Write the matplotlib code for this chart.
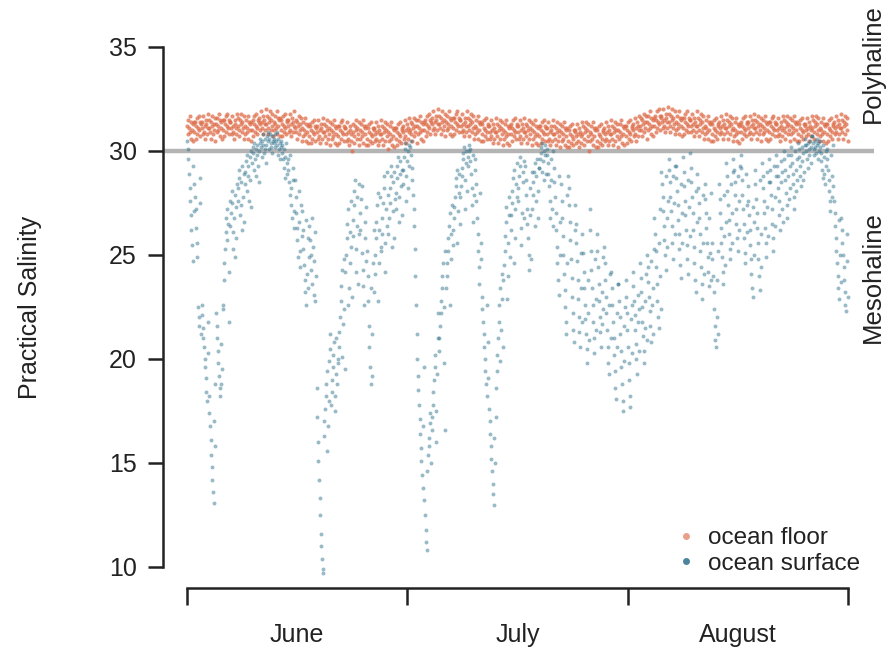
import numpy as np
import matplotlib
matplotlib.use("Agg")
import matplotlib.pyplot as plt
import matplotlib.transforms as mtransforms
from matplotlib.lines import Line2D

plt.rcParams["font.family"] = ["Liberation Sans", "DejaVu Sans"]

# Salinity readings, one row per day from 1 June, every 2 h through the day

FLOOR_SALINITY = [
    [31.2, 30.8, 31.5, 31.1, 30.9, 31.7, 30.6, 31.4, 31.0, 31.3, 30.5, 31.4],
    [30.9, 31.4, 30.6, 31.2, 31.6, 30.8, 31.1, 31.7, 31.0, 30.7, 31.4, 31.3],
    [31.4, 31.1, 30.8, 31.7, 30.9, 31.2, 30.6, 31.5, 31.3, 30.8, 31.1, 31.8],
    [31.1, 31.5, 30.9, 30.6, 31.4, 31.2, 31.7, 30.8, 31.3, 31.0, 31.6, 30.5],
    [31.3, 30.9, 31.6, 31.2, 31.0, 31.8, 30.7, 31.5, 31.1, 31.4, 30.6, 31.5],
    [31.0, 31.5, 30.7, 31.3, 31.7, 30.9, 31.2, 31.8, 31.1, 30.8, 31.5, 31.4],
    [31.4, 31.1, 30.8, 31.7, 30.9, 31.2, 30.6, 31.5, 31.3, 30.8, 31.1, 31.8],
    [31.2, 31.6, 31.0, 30.7, 31.5, 31.3, 31.8, 30.9, 31.4, 31.1, 31.7, 30.6],
    [31.2, 30.8, 31.5, 31.1, 30.9, 31.7, 30.6, 31.4, 31.0, 31.3, 30.5, 31.4],
    [31.0, 31.5, 30.7, 31.3, 31.7, 30.9, 31.2, 31.8, 31.1, 30.8, 31.5, 31.4],
    [31.6, 31.3, 31.0, 31.9, 31.1, 31.4, 30.8, 31.7, 31.5, 31.0, 31.3, 32.0],
    [31.3, 31.7, 31.1, 30.8, 31.6, 31.4, 31.9, 31.0, 31.5, 31.2, 31.8, 30.7],
    [31.4, 31.0, 31.7, 31.3, 31.1, 31.9, 30.8, 31.6, 31.2, 31.5, 30.7, 31.6],
    [31.0, 31.5, 30.7, 31.3, 31.7, 30.9, 31.2, 31.8, 31.1, 30.8, 31.5, 31.4],
    [31.5, 31.2, 30.9, 31.8, 31.0, 31.3, 30.7, 31.6, 31.4, 30.9, 31.2, 31.9],
    [31.1, 31.5, 30.9, 30.6, 31.4, 31.2, 31.7, 30.8, 31.3, 31.0, 31.6, 30.5],
    [31.1, 30.7, 31.4, 31.0, 30.8, 31.6, 30.5, 31.3, 30.9, 31.2, 30.4, 31.3],
    [30.7, 31.2, 30.4, 31.0, 31.4, 30.6, 30.9, 31.5, 30.8, 30.5, 31.2, 31.1],
    [31.2, 30.9, 30.6, 31.5, 30.7, 31.0, 30.4, 31.3, 31.1, 30.6, 30.9, 31.6],
    [30.9, 31.3, 30.7, 30.4, 31.2, 31.0, 31.5, 30.6, 31.1, 30.8, 31.4, 30.3],
    [31.0, 30.6, 31.3, 30.9, 30.7, 31.5, 30.4, 31.2, 30.8, 31.1, 30.3, 31.2],
    [30.7, 31.2, 30.4, 31.0, 31.4, 30.6, 30.9, 31.5, 30.8, 30.5, 31.2, 31.1],
    [31.1, 30.8, 30.5, 31.4, 30.6, 30.9, 30.3, 31.2, 31.0, 30.5, 30.8, 30.0],
    [30.9, 31.3, 30.7, 30.4, 31.2, 31.0, 31.5, 30.6, 31.1, 30.8, 31.4, 30.3],
    [31.0, 30.6, 31.3, 30.9, 30.7, 31.5, 30.4, 31.2, 30.8, 31.1, 30.3, 31.2],
    [30.6, 31.1, 30.3, 30.9, 31.3, 30.5, 30.8, 31.4, 30.7, 30.4, 31.1, 31.0],
    [31.1, 30.8, 30.5, 31.4, 30.6, 30.9, 30.3, 31.2, 31.0, 30.5, 30.8, 31.5],
    [30.8, 31.2, 30.6, 30.3, 31.1, 30.9, 31.4, 30.5, 31.0, 30.7, 31.3, 30.1],
    [30.9, 30.5, 31.2, 30.8, 30.6, 31.4, 30.3, 31.1, 30.7, 31.0, 30.2, 31.1],
    [30.6, 31.1, 30.3, 30.9, 31.3, 30.5, 30.8, 31.4, 30.7, 30.4, 31.1, 31.0],
    [31.2, 30.9, 30.6, 31.5, 30.7, 31.0, 30.4, 31.3, 31.1, 30.6, 30.9, 31.6],
    [31.0, 31.4, 30.8, 30.5, 31.3, 31.1, 31.6, 30.7, 31.2, 30.9, 31.5, 30.4],
    [31.2, 30.8, 31.5, 31.1, 30.9, 31.7, 30.6, 31.4, 31.0, 31.3, 30.5, 31.4],
    [31.0, 31.5, 30.7, 31.3, 31.7, 30.9, 31.2, 31.8, 31.1, 30.8, 31.5, 31.4],
    [31.6, 31.3, 31.0, 31.9, 31.1, 31.4, 30.8, 31.7, 31.5, 31.0, 31.3, 32.0],
    [31.3, 31.7, 31.1, 30.8, 31.6, 31.4, 31.9, 31.0, 31.5, 31.2, 31.8, 30.7],
    [31.4, 31.0, 31.7, 31.3, 31.1, 31.9, 30.8, 31.6, 31.2, 31.5, 30.7, 31.6],
    [31.1, 31.6, 30.8, 31.4, 31.8, 31.0, 31.3, 31.9, 31.2, 30.9, 31.6, 31.5],
    [31.5, 31.2, 30.9, 31.8, 31.0, 31.3, 30.7, 31.6, 31.4, 30.9, 31.2, 31.9],
    [31.2, 31.6, 31.0, 30.7, 31.5, 31.3, 31.8, 30.9, 31.4, 31.1, 31.7, 30.6],
    [31.2, 30.8, 31.5, 31.1, 30.9, 31.7, 30.6, 31.4, 31.0, 31.3, 30.5, 31.4],
    [30.8, 31.3, 30.5, 31.1, 31.5, 30.7, 31.0, 31.6, 30.9, 30.6, 31.3, 31.2],
    [31.2, 30.9, 30.6, 31.5, 30.7, 31.0, 30.4, 31.3, 31.1, 30.6, 30.9, 31.6],
    [30.9, 31.3, 30.7, 30.4, 31.2, 31.0, 31.5, 30.6, 31.1, 30.8, 31.4, 30.3],
    [31.0, 30.6, 31.3, 30.9, 30.7, 31.5, 30.4, 31.2, 30.8, 31.1, 30.3, 31.2],
    [30.8, 31.3, 30.5, 31.1, 31.5, 30.7, 31.0, 31.6, 30.9, 30.6, 31.3, 31.2],
    [31.2, 30.9, 30.6, 31.5, 30.7, 31.0, 30.4, 31.3, 31.1, 30.6, 30.9, 31.6],
    [30.9, 31.3, 30.7, 30.4, 31.2, 31.0, 31.5, 30.6, 31.1, 30.8, 31.4, 30.3],
    [31.0, 30.6, 31.3, 30.9, 30.7, 31.5, 30.4, 31.2, 30.8, 31.1, 30.3, 31.2],
    [30.7, 31.2, 30.4, 31.0, 31.4, 30.6, 30.9, 31.5, 30.8, 30.5, 31.2, 31.1],
    [31.1, 30.8, 30.5, 31.4, 30.6, 30.9, 30.3, 31.2, 31.0, 30.5, 30.8, 31.5],
    [30.8, 31.2, 30.6, 30.3, 31.1, 30.9, 31.4, 30.5, 31.0, 30.7, 31.3, 30.2],
    [30.9, 30.5, 31.2, 30.8, 30.6, 31.4, 30.3, 31.1, 30.7, 31.0, 30.2, 31.1],
    [30.5, 31.0, 30.2, 30.8, 31.2, 30.4, 30.7, 31.3, 30.6, 30.3, 31.0, 30.9],
    [31.0, 30.7, 30.4, 31.3, 30.5, 30.8, 30.2, 31.1, 30.9, 30.4, 30.7, 31.4],
    [30.8, 31.2, 30.6, 30.3, 31.1, 30.9, 31.4, 30.5, 31.0, 30.7, 31.3, 30.0],
    [30.9, 30.5, 31.2, 30.8, 30.6, 31.4, 30.3, 31.1, 30.7, 31.0, 30.2, 31.1],
    [30.5, 31.0, 30.2, 30.8, 31.2, 30.4, 30.7, 31.3, 30.6, 30.3, 31.0, 30.9],
    [31.1, 30.8, 30.5, 31.4, 30.6, 30.9, 30.3, 31.2, 31.0, 30.5, 30.8, 31.5],
    [30.8, 31.2, 30.6, 30.3, 31.1, 30.9, 31.4, 30.5, 31.0, 30.7, 31.3, 30.2],
    [31.0, 30.6, 31.3, 30.9, 30.7, 31.5, 30.4, 31.2, 30.8, 31.1, 30.3, 31.2],
    [30.7, 31.2, 30.4, 31.0, 31.4, 30.6, 30.9, 31.5, 30.8, 30.5, 31.2, 31.1],
    [31.3, 31.0, 30.7, 31.6, 30.8, 31.1, 30.5, 31.4, 31.2, 30.7, 31.0, 31.7],
    [31.2, 31.6, 31.0, 30.7, 31.5, 31.3, 31.8, 30.9, 31.4, 31.1, 31.7, 30.6],
    [31.4, 31.0, 31.7, 31.3, 31.1, 31.9, 30.8, 31.6, 31.2, 31.5, 30.7, 31.6],
    [31.2, 31.7, 30.9, 31.5, 31.9, 31.1, 31.4, 32.0, 31.3, 31.0, 31.7, 31.6],
    [31.7, 31.4, 31.1, 32.0, 31.2, 31.5, 30.9, 31.8, 31.6, 31.1, 31.4, 32.1],
    [31.4, 31.8, 31.2, 30.9, 31.7, 31.5, 32.0, 31.1, 31.6, 31.3, 31.9, 30.8],
    [31.4, 31.0, 31.7, 31.3, 31.1, 31.9, 30.8, 31.6, 31.2, 31.5, 30.7, 31.6],
    [31.1, 31.6, 30.8, 31.4, 31.8, 31.0, 31.3, 31.9, 31.2, 30.9, 31.6, 31.5],
    [31.5, 31.2, 30.9, 31.8, 31.0, 31.3, 30.7, 31.6, 31.4, 30.9, 31.2, 31.9],
    [31.2, 31.6, 31.0, 30.7, 31.5, 31.3, 31.8, 30.9, 31.4, 31.1, 31.7, 30.6],
    [31.2, 30.8, 31.5, 31.1, 30.9, 31.7, 30.6, 31.4, 31.0, 31.3, 30.5, 31.4],
    [30.8, 31.3, 30.5, 31.1, 31.5, 30.7, 31.0, 31.6, 30.9, 30.6, 31.3, 31.2],
    [31.4, 31.1, 30.8, 31.7, 30.9, 31.2, 30.6, 31.5, 31.3, 30.8, 31.1, 31.8],
    [31.1, 31.5, 30.9, 30.6, 31.4, 31.2, 31.7, 30.8, 31.3, 31.0, 31.6, 30.5],
    [31.1, 30.7, 31.4, 31.0, 30.8, 31.6, 30.5, 31.3, 30.9, 31.2, 30.4, 31.3],
    [30.9, 31.4, 30.6, 31.2, 31.6, 30.8, 31.1, 31.7, 31.0, 30.7, 31.4, 31.3],
    [31.4, 31.1, 30.8, 31.7, 30.9, 31.2, 30.6, 31.5, 31.3, 30.8, 31.1, 31.8],
    [31.1, 31.5, 30.9, 30.6, 31.4, 31.2, 31.7, 30.8, 31.3, 31.0, 31.6, 30.5],
    [31.2, 30.8, 31.5, 31.1, 30.9, 31.7, 30.6, 31.4, 31.0, 31.3, 30.5, 31.4],
    [30.9, 31.4, 30.6, 31.2, 31.6, 30.8, 31.1, 31.7, 31.0, 30.7, 31.4, 31.3],
    [31.3, 31.0, 30.7, 31.6, 30.8, 31.1, 30.5, 31.4, 31.2, 30.7, 31.0, 31.7],
    [31.1, 31.5, 30.9, 30.6, 31.4, 31.2, 31.7, 30.8, 31.3, 31.0, 31.6, 30.5],
    [31.2, 30.8, 31.5, 31.1, 30.9, 31.7, 30.6, 31.4, 31.0, 31.3, 30.5, 31.4],
    [30.8, 31.3, 30.5, 31.1, 31.5, 30.7, 31.0, 31.6, 30.9, 30.6, 31.3, 31.2],
    [31.3, 31.0, 30.7, 31.6, 30.8, 31.1, 30.5, 31.4, 31.2, 30.7, 31.0, 31.7],
    [31.1, 31.5, 30.9, 30.6, 31.4, 31.2, 31.7, 30.8, 31.3, 31.0, 31.6, 30.5],
    [31.1, 30.7, 31.4, 31.0, 30.8, 31.6, 30.5, 31.3, 30.9, 31.2, 30.4, 31.3],
    [30.8, 31.3, 30.5, 31.1, 31.5, 30.7, 31.0, 31.6, 30.9, 30.6, 31.3, 31.2],
    [31.4, 31.1, 30.8, 31.7, 30.9, 31.2, 30.6, 31.5, 31.3, 30.8, 31.1, 31.8],
    [31.1, 31.5, 30.9, 30.6, 31.4, 31.2, 31.7, 30.8, 31.3, 31.0, 31.6, 30.5],
]

SURFACE_SALINITY = [
    [30.5, 30.1, 29.6, 28.9, 28.2, 27.6, 26.9, 26.2, 25.5, 24.7, 29.3, 27.1],
    [28.4, 27.8, 27.2, 26.3, 25.6, 24.9, 22.5, 22.0, 21.6, 28.7, 27.5, 21.2],
    [22.6, 22.1, 21.5, 21.0, 20.6, 20.0, 19.6, 19.1, 18.4, 18.0, 21.8, 20.3],
    [18.2, 17.4, 16.8, 16.1, 15.4, 14.8, 14.2, 13.6, 13.1, 17.0, 15.8, 18.8],
    [22.2, 21.6, 21.0, 20.4, 19.8, 19.2, 18.6, 18.2, 18.8, 20.7, 19.5, 22.6],
    [22.4, 23.8, 24.6, 25.3, 26.1, 26.8, 27.2, 25.7, 26.5, 21.8, 24.2, 27.6],
    [26.4, 27.0, 27.5, 28.1, 25.3, 26.1, 26.8, 27.9, 24.9, 25.8, 27.3, 28.4],
    [27.6, 28.2, 28.7, 29.1, 26.9, 27.4, 28.5, 29.3, 26.2, 27.8, 28.9, 26.6],
    [28.4, 29.0, 29.5, 29.8, 28.1, 28.8, 29.3, 27.6, 28.6, 29.7, 27.3, 30.0],
    [29.4, 29.9, 30.2, 30.4, 29.1, 29.6, 30.1, 28.8, 29.8, 30.3, 29.3, 28.5],
    [30.0, 30.4, 30.6, 30.2, 29.7, 30.5, 30.8, 30.3, 29.9, 30.6, 30.1, 29.4],
    [30.3, 30.7, 30.9, 30.5, 30.1, 30.6, 30.8, 30.2, 30.4, 30.7, 29.9, 30.5],
    [30.6, 30.4, 30.8, 30.2, 30.5, 30.9, 30.3, 29.8, 30.6, 30.1, 30.4, 29.6],
    [30.2, 30.5, 29.9, 30.3, 29.6, 30.1, 29.2, 28.7, 29.7, 30.4, 28.9, 29.4],
    [29.6, 29.1, 28.5, 27.9, 29.8, 28.2, 27.4, 26.8, 29.2, 28.6, 27.1, 26.3],
    [28.6, 27.8, 27.0, 26.3, 25.7, 24.9, 28.1, 26.6, 25.2, 24.4, 27.4, 25.9],
    [27.1, 26.2, 25.3, 24.5, 23.8, 23.2, 22.6, 26.7, 24.1, 25.8, 23.4, 24.9],
    [26.4, 25.7, 25.0, 24.3, 23.6, 26.8, 25.4, 24.7, 23.1, 22.8, 26.1, 24.0],
    [18.6, 17.2, 16.0, 15.1, 14.2, 13.3, 12.5, 11.6, 11.0, 10.4, 9.9, 9.7],
    [16.3, 17.0, 17.6, 18.2, 18.8, 19.4, 15.6, 16.8, 18.0, 19.9, 20.5, 21.2],
    [17.8, 18.4, 19.0, 19.6, 20.2, 20.8, 18.2, 17.5, 19.3, 21.0, 18.8, 20.0],
    [19.8, 20.6, 21.3, 22.0, 22.8, 23.5, 24.3, 20.1, 21.7, 22.4, 24.8, 19.5],
    [24.2, 25.0, 25.8, 26.5, 27.2, 22.6, 23.4, 24.6, 26.1, 27.6, 25.4, 23.0],
    [25.9, 26.7, 27.4, 28.1, 28.6, 24.2, 25.3, 26.4, 27.8, 23.6, 26.0, 28.4],
    [26.2, 27.0, 27.7, 28.3, 25.1, 24.3, 23.5, 22.6, 25.8, 26.6, 27.3, 24.7],
    [25.2, 24.0, 22.8, 21.6, 20.6, 19.6, 18.8, 23.4, 21.2, 19.2, 24.6, 26.2],
    [23.2, 24.1, 25.0, 25.8, 26.6, 27.4, 28.0, 22.8, 24.6, 26.2, 27.8, 25.4],
    [25.2, 26.0, 26.8, 27.5, 28.2, 28.8, 24.2, 25.6, 27.2, 29.0, 26.4, 27.9],
    [26.0, 26.8, 27.5, 28.2, 28.8, 29.3, 25.4, 27.1, 28.5, 29.0, 25.8, 27.7],
    [27.2, 28.0, 28.7, 29.3, 29.7, 26.6, 27.8, 28.9, 29.5, 28.3, 26.9, 29.1],
    [28.4, 29.1, 29.7, 30.1, 30.4, 27.6, 28.8, 29.5, 30.0, 28.2, 29.3, 30.3],
    [30.2, 30.5, 29.8, 29.2, 28.6, 27.9, 27.2, 26.4, 25.3, 24.0, 22.6, 21.2],
    [20.0, 19.2, 18.5, 17.8, 17.1, 16.4, 15.7, 15.1, 14.4, 13.8, 16.8, 19.6],
    [13.2, 12.5, 11.8, 11.2, 10.8, 14.6, 15.4, 16.2, 15.8, 16.9, 17.4, 15.0],
    [16.6, 17.2, 17.8, 18.4, 19.0, 19.6, 20.2, 16.0, 17.5, 19.3, 21.0, 22.2],
    [20.4, 21.0, 21.6, 22.2, 22.8, 23.4, 24.0, 24.6, 19.8, 22.5, 25.2, 16.6],
    [23.4, 24.0, 24.6, 25.2, 25.8, 26.4, 27.0, 22.6, 24.8, 26.0, 27.4, 25.5],
    [26.2, 26.8, 27.3, 27.8, 28.3, 28.7, 29.1, 25.6, 27.1, 28.0, 28.9, 26.5],
    [27.8, 28.3, 28.8, 29.2, 29.6, 29.9, 30.2, 27.2, 28.6, 29.4, 30.0, 28.1],
    [29.3, 29.7, 30.0, 30.3, 30.1, 29.5, 28.9, 28.2, 27.4, 26.6, 29.8, 27.9],
    [29.6, 29.1, 28.4, 27.6, 26.8, 26.0, 25.2, 24.4, 23.6, 28.0, 25.6, 24.8],
    [23.0, 22.4, 21.8, 21.2, 20.6, 20.0, 19.4, 18.8, 18.2, 22.6, 20.8, 19.1],
    [17.6, 17.0, 16.4, 15.8, 15.2, 14.6, 14.0, 13.5, 13.0, 16.2, 15.0, 17.2],
    [18.6, 19.4, 20.2, 21.0, 21.8, 22.6, 23.4, 19.9, 21.4, 22.9, 24.1, 20.6],
    [23.8, 24.5, 25.2, 25.9, 26.6, 27.3, 22.9, 24.0, 25.6, 26.9, 27.8, 24.9],
    [26.2, 26.9, 27.5, 28.1, 28.7, 29.1, 24.6, 25.8, 27.2, 28.4, 29.4, 27.8],
    [27.6, 28.2, 28.8, 29.3, 29.7, 26.3, 25.5, 27.0, 28.5, 29.0, 26.8, 29.5],
    [29.3, 28.6, 27.9, 27.2, 26.5, 25.8, 25.0, 24.3, 28.2, 26.9, 24.8, 29.0],
    [27.2, 27.9, 28.5, 29.0, 29.4, 26.4, 27.6, 28.8, 29.6, 28.1, 26.8, 29.2],
    [29.2, 29.6, 29.9, 30.2, 30.4, 29.0, 29.5, 30.0, 28.6, 29.8, 30.3, 28.9],
    [30.1, 29.8, 29.4, 28.9, 28.3, 27.6, 26.8, 29.6, 28.6, 27.2, 30.0, 26.4],
    [29.2, 28.5, 27.8, 27.0, 26.2, 25.4, 24.6, 23.8, 23.1, 28.8, 26.6, 25.0],
    [28.4, 27.6, 26.8, 25.9, 25.0, 24.1, 23.3, 22.5, 21.8, 21.2, 27.9, 24.6],
    [28.8, 28.2, 27.4, 26.6, 25.7, 24.8, 23.9, 23.0, 22.2, 21.4, 20.8, 26.2],
    [27.4, 26.5, 25.6, 24.7, 23.8, 22.9, 22.0, 21.3, 20.6, 23.4, 25.1, 21.8],
    [26.0, 25.1, 24.2, 23.4, 22.6, 21.9, 21.2, 20.5, 19.8, 23.8, 22.2, 20.9],
    [27.2, 26.2, 25.2, 24.3, 23.4, 22.6, 21.8, 21.0, 20.3, 24.8, 22.9, 21.4],
    [26.0, 25.2, 24.4, 23.6, 22.8, 22.0, 21.3, 20.6, 23.2, 21.7, 24.9, 22.4],
    [25.4, 24.6, 23.8, 23.0, 22.2, 21.4, 20.6, 19.8, 19.3, 22.6, 24.1, 21.0],
    [24.2, 23.4, 22.6, 21.8, 21.0, 20.2, 19.4, 18.6, 18.1, 22.2, 20.6, 23.6],
    [23.6, 22.8, 22.0, 21.2, 20.4, 19.6, 18.8, 18.0, 17.5, 21.6, 19.9, 22.5],
    [23.8, 23.0, 22.2, 21.4, 20.6, 19.8, 19.0, 18.2, 17.7, 21.9, 20.3, 22.6],
    [24.2, 23.5, 22.8, 22.1, 21.4, 20.7, 20.0, 19.3, 21.8, 23.1, 20.4, 22.4],
    [24.6, 23.9, 23.2, 22.5, 21.8, 21.1, 20.4, 19.8, 22.8, 21.5, 24.1, 20.9],
    [25.0, 24.4, 23.7, 23.0, 22.3, 21.6, 20.8, 24.7, 22.6, 21.2, 23.4, 25.3],
    [26.8, 26.0, 25.2, 24.4, 23.6, 22.8, 22.0, 21.5, 25.6, 24.0, 27.2, 22.4],
    [29.0, 28.4, 27.8, 27.1, 26.4, 25.7, 25.0, 24.3, 28.8, 26.8, 25.4, 27.6],
    [29.6, 29.1, 28.5, 27.8, 27.1, 26.4, 25.6, 24.8, 28.8, 27.5, 26.0, 29.3],
    [29.3, 28.7, 28.1, 27.4, 26.7, 26.0, 25.3, 24.5, 23.9, 28.4, 27.0, 25.6],
    [29.7, 29.0, 28.3, 27.6, 26.9, 26.2, 25.5, 24.8, 24.1, 28.6, 27.3, 25.9],
    [29.9, 29.2, 28.5, 27.8, 27.0, 26.2, 25.4, 24.6, 23.8, 23.2, 28.1, 26.6],
    [28.9, 28.2, 27.5, 26.8, 26.0, 25.2, 24.4, 23.6, 22.9, 27.9, 25.6, 24.1],
    [28.4, 27.7, 27.0, 26.3, 25.6, 24.9, 24.2, 23.5, 26.8, 25.1, 28.0, 23.8],
    [25.6, 24.8, 24.0, 23.2, 22.4, 21.6, 20.9, 20.6, 22.0, 23.8, 25.2, 21.2],
    [28.4, 27.7, 27.0, 26.3, 25.6, 24.9, 24.2, 23.6, 27.9, 25.9, 24.5, 26.6],
    [29.4, 28.8, 28.1, 27.4, 26.7, 26.0, 25.3, 24.8, 28.4, 27.0, 25.6, 29.0],
    [29.6, 29.1, 28.5, 27.9, 27.2, 26.5, 25.8, 25.2, 28.8, 27.6, 26.2, 29.3],
    [29.8, 29.2, 28.6, 27.9, 27.2, 26.5, 25.8, 25.1, 24.6, 28.9, 27.4, 26.1],
    [28.3, 27.6, 26.9, 26.2, 25.5, 24.8, 24.1, 23.4, 23.0, 27.3, 25.0, 26.6],
    [29.1, 28.4, 27.7, 27.0, 26.3, 25.6, 24.8, 24.0, 23.3, 28.6, 26.0, 24.4],
    [29.4, 28.8, 28.2, 27.6, 27.0, 26.3, 25.6, 24.9, 29.0, 27.3, 25.9, 28.5],
    [29.6, 29.1, 28.5, 27.9, 27.2, 26.5, 25.8, 25.2, 29.3, 27.8, 26.4, 28.8],
    [29.8, 29.3, 28.8, 28.2, 27.6, 26.9, 26.2, 29.5, 28.5, 27.2, 29.0, 26.6],
    [30.0, 29.6, 29.1, 28.6, 28.0, 27.4, 26.8, 29.8, 28.8, 27.7, 29.3, 28.2],
    [30.2, 29.8, 29.4, 28.9, 28.4, 27.8, 27.2, 30.0, 29.1, 28.1, 29.6, 28.6],
    [30.4, 30.1, 29.7, 29.3, 28.8, 28.3, 30.2, 29.5, 28.6, 29.9, 29.0, 30.3],
    [30.6, 30.3, 30.0, 29.6, 29.2, 30.4, 30.1, 29.8, 30.5, 29.4, 30.2, 30.7],
    [30.7, 30.4, 30.1, 29.8, 30.5, 30.2, 29.9, 30.6, 30.3, 29.6, 30.4, 30.0],
    [30.5, 30.2, 29.9, 29.5, 29.1, 28.7, 30.3, 29.7, 28.9, 28.4, 30.0, 29.3],
    [30.1, 29.6, 29.1, 28.6, 28.1, 27.6, 27.1, 29.8, 28.8, 27.8, 30.3, 28.3],
    [27.6, 27.0, 26.4, 25.8, 25.2, 24.6, 24.0, 23.4, 22.9, 26.7, 25.0, 23.7],
    [26.8, 26.2, 25.6, 25.0, 24.4, 23.8, 23.2, 22.6, 22.3, 26.0, 24.7, 23.0],
]

MONTHS = ["June", "July", "August"]
Y_TICKS = [10, 15, 20, 25, 30, 35]
HALINE_SPLIT = 30
N_DAYS = len(SURFACE_SALINITY)

FLOOR_COLOR = "#dd6e4b"
SURFACE_COLOR = "#2b6f8b"
LINE_COLOR = "#b4b4b4"
INK = "#222222"


def flatten_days(rows):
    """Spread each day's readings evenly through that day; return (t, value)."""
    t, v = [], []
    for day, row in enumerate(rows):
        n = len(row)
        t.extend(day + (np.arange(n) + 0.5) / n)
        v.extend(row)
    return np.array(t), np.array(v)


# ── Figure ────────────────────────────────────────────────────────────────────

W, H = 886, 650
fig = plt.figure(figsize=(W / 100, H / 100), dpi=100)
ax = fig.add_axes([187 / W, 1 - 567 / H, 661 / W, 520 / H])

t_floor, floor = flatten_days(FLOOR_SALINITY)
t_surf, surface = flatten_days(SURFACE_SALINITY)

# Polyhaline / mesohaline boundary, runs past both ends of the axes
trans = mtransforms.blended_transform_factory(ax.transAxes, ax.transData)
ax.plot([-0.036, 1.04], [HALINE_SPLIT, HALINE_SPLIT], transform=trans,
        color=LINE_COLOR, lw=3.2, solid_capstyle="butt", clip_on=False, zorder=1)

ax.scatter(t_floor, floor, s=9, color=FLOOR_COLOR, alpha=0.75,
           linewidths=0, clip_on=False, zorder=2)
ax.scatter(t_surf, surface, s=8, color=SURFACE_COLOR, alpha=0.48,
           linewidths=0, clip_on=False, zorder=3)

ax.set_xlim(0, N_DAYS)
ax.set_ylim(Y_TICKS[0], Y_TICKS[-1])

# ── Axes styling (detached spines) ────────────────────────────────────────────

for side in ("top", "right"):
    ax.spines[side].set_visible(False)
ax.spines["left"].set_position(("outward", 17))
ax.spines["bottom"].set_position(("outward", 15))
for side in ("left", "bottom"):
    ax.spines[side].set_linewidth(1.8)
    ax.spines[side].set_color(INK)

ax.set_yticks(Y_TICKS)
ax.tick_params(axis="y", length=11, width=1.8, color=INK, pad=8,
               labelsize=18, labelcolor=INK)

month_edges = np.linspace(0, N_DAYS, len(MONTHS) + 1)
ax.set_xticks(month_edges)
ax.set_xticklabels([])
ax.set_xticks((month_edges[:-1] + month_edges[1:]) / 2, minor=True)
ax.set_xticklabels(MONTHS, minor=True)
ax.tick_params(axis="x", which="major", length=12, width=1.8, color=INK)
ax.tick_params(axis="x", which="minor", length=0, pad=25,
               labelsize=18, labelcolor=INK)

fig.text(30 / W, 1 - 307 / H, "Practical Salinity", rotation=90,
         ha="center", va="center", fontsize=18, color=INK)
fig.text(885 / W, 1 - 64 / H, "Polyhaline", rotation=90,
         ha="right", va="center", fontsize=18.5, color=INK)
fig.text(885 / W, 1 - 277 / H, "Mesohaline", rotation=90,
         ha="right", va="center", fontsize=18.5, color=INK)

# ── Legend ────────────────────────────────────────────────────────────────────

handles = [
    Line2D([], [], ls="", marker="o", ms=5, mew=0, color=FLOOR_COLOR, alpha=0.65),
    Line2D([], [], ls="", marker="o", ms=5, mew=0, color=SURFACE_COLOR, alpha=0.85),
]
ax.legend(handles, ["ocean floor", "ocean surface"], loc="lower right",
          bbox_to_anchor=(872 / W, 1 - 587 / H), bbox_transform=fig.transFigure,
          frameon=False, fontsize=17.5, handlelength=0.8, handletextpad=0.5,
          labelspacing=0.15, borderpad=0, labelcolor=INK)

fig.savefig("out.png", dpi=100)
